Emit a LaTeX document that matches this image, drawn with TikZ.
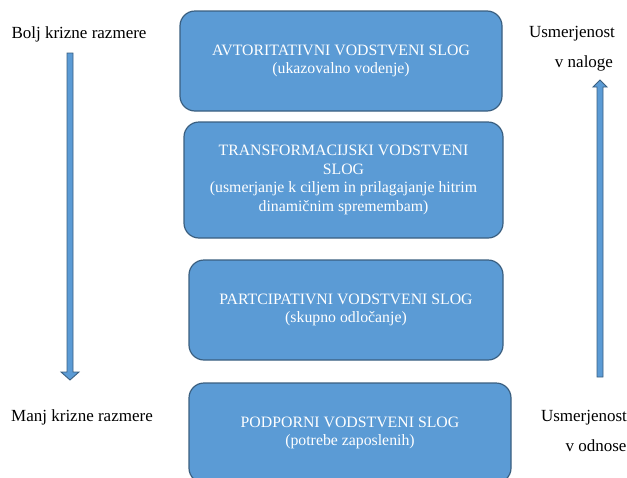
\documentclass[tikz,border=0pt]{standalone}
\usepackage{fontspec}
\setmainfont{Liberation Serif}
\definecolor{boxfill}{HTML}{5B9BD5}
\definecolor{boxline}{HTML}{3A5F80}
\begin{document}
\begin{tikzpicture}[x=1pt,y=-1pt,
  stylebox/.style={draw=boxline, line width=1.2pt, fill=boxfill, rounded corners=15pt,
    text=white, align=center, font=\fontsize{15.8}{18.5}\selectfont, inner sep=0pt},
  sidetext/.style={font=\fontsize{17}{20}\selectfont, text=black, inner sep=0pt},
  blockarrow/.style={draw=boxline, line width=0.9pt, fill=boxfill, line join=miter}]
\useasboundingbox (0,0) rectangle (627,477);

% leadership style boxes
\node[stylebox, minimum width=322pt, minimum height=100pt] (auth) at (341,61)
  {AVTORITATIVNI VODSTVENI SLOG\\(ukazovalno vodenje)};
\node[stylebox, minimum width=319pt, minimum height=116pt] (trans) at (343.5,180)
  {TRANSFORMACIJSKI VODSTVENI\\SLOG\\(usmerjanje k ciljem in prilagajanje hitrim\\dinamičnim spremembam)};
\node[stylebox, minimum width=314pt, minimum height=100pt] (part) at (346,310)
  {PARTCIPATIVNI VODSTVENI SLOG\\(skupno odločanje)};
\node[stylebox, minimum width=322pt, minimum height=100pt] (supp) at (350,433)
  {PODPORNI VODSTVENI SLOG\\(potrebe zaposlenih)};

% side labels
\node[sidetext] (crisisHigh) at (79,34) {Bolj krizne razmere};
\node[sidetext] (crisisLow) at (82,417) {Manj krizne razmere};
\node[sidetext] (taskA) at (572,34) {Usmerjenost};
\node[sidetext] (taskB) at (584,63) {v naloge};
\node[sidetext] (relA) at (584,418) {Usmerjenost};
\node[sidetext] (relB) at (596,446) {v odnose};

% block arrow pointing down (left side)
\draw[blockarrow] (67,53) -- (73,53) -- (73,372) -- (79,372) -- (70,380)
  -- (61,372) -- (67,372) -- cycle;
% block arrow pointing up (right side)
\draw[blockarrow] (597,377) -- (603,377) -- (603,87) -- (607,87) -- (600,80)
  -- (593,87) -- (597,87) -- cycle;
\end{tikzpicture}
\end{document}
